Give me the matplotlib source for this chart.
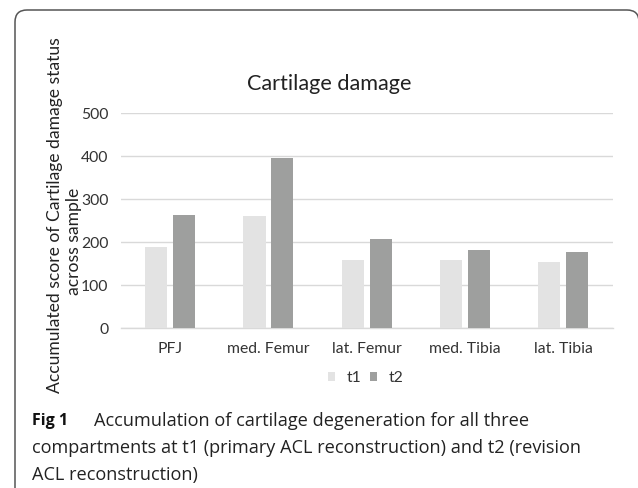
import matplotlib
matplotlib.use("Agg")
import matplotlib.pyplot as plt
import numpy as np
from matplotlib.patches import FancyBboxPatch
from matplotlib.transforms import IdentityTransform

categories = ["PFJ", "med. Femur", "lat. Femur", "med. Tibia", "lat. Tibia"]
t1_values = [190, 262, 160, 158, 155]
t2_values = [263, 396, 208, 181, 178]
series_names = ["t1", "t2"]
y_ticks = [0, 100, 200, 300, 400, 500]
title = "Cartilage damage"
ylabel_line1 = "Accumulated score of Cartilage damage status"
ylabel_line2 = "across sample"
caption_bold = "Fig 1"
caption_lines = [
    "Accumulation of cartilage degeneration for all three",
    "compartments at t1 (primary ACL reconstruction) and t2 (revision",
    "ACL reconstruction)",
]

W, H = 638, 488
fig = plt.figure(figsize=(W / 100, H / 100), dpi=100)
fig.patch.set_facecolor("white")

def fx(x):
    return x / W

def fy(y):
    return 1 - y / H

CHART_FONT = ["Lato", "DejaVu Sans"]
CAP_FONT = ["Open Sans", "DejaVu Sans"]

# plot area in pixels
left, right, top, bottom = 121, 612.5, 113.3, 328.3
ax = fig.add_axes([fx(left), fy(bottom), (right - left) / W, (bottom - top) / H])

x = np.arange(len(categories))
bw = 0.224
off = 0.142
c1, c2 = "#e3e3e3", "#9e9f9e"
ax.bar(x - off, t1_values, bw, color=c1, label=series_names[0], zorder=3)
ax.bar(x + off, t2_values, bw, color=c2, label=series_names[1], zorder=3)

ax.set_xlim(-0.5, len(categories) - 0.5)
ax.set_ylim(0, 500)
ax.set_yticks(y_ticks)
ax.set_yticklabels([str(v) for v in y_ticks], fontfamily=CHART_FONT, fontsize=11.3, color="#333333")
ax.set_xticks(x)
ax.set_xticklabels(categories, fontfamily=CHART_FONT, fontsize=11.3, color="#333333")
ax.tick_params(axis="both", length=0)
ax.tick_params(axis="y", pad=9)
ax.tick_params(axis="x", pad=10)
ax.grid(axis="y", color="#d9d9d9", linewidth=1, zorder=0)
for s in ["top", "right", "left"]:
    ax.spines[s].set_visible(False)
ax.spines["bottom"].set_color("#d9d9d9")
ax.spines["bottom"].set_linewidth(1)

fig.text(fx(329), fy(84), title, ha="center", va="center",
         fontfamily=CHART_FONT, fontsize=15.6, color="#222222")

fig.text(fx(55.5), fy(215), ylabel_line1, rotation=90, ha="center", va="center",
         fontfamily=CHART_FONT, fontsize=12.6, color="#222222")
fig.text(fx(74.5), fy(241), ylabel_line2, rotation=90, ha="center", va="center",
         fontfamily=CHART_FONT, fontsize=12.6, color="#222222")

leg = ax.legend(loc="center", bbox_to_anchor=(fx(365.6), fy(378)), bbox_transform=fig.transFigure,
                ncol=2, frameon=False, handlelength=0.45, handleheight=0.45,
                handletextpad=0.75, columnspacing=0.5,
                prop={"family": CHART_FONT, "size": 11.3})
for t in leg.get_texts():
    t.set_color("#333333")

# caption
fig.text(fx(32), fy(421), caption_bold, ha="left", va="center",
         fontfamily=CAP_FONT, fontsize=11.5, fontweight="bold", color="#111111")
fig.text(fx(94), fy(421), caption_lines[0], ha="left", va="center",
         fontfamily=CAP_FONT, fontsize=13.1, color="#222222")
fig.text(fx(32), fy(448), caption_lines[1], ha="left", va="center",
         fontfamily=CAP_FONT, fontsize=13.1, color="#222222")
fig.text(fx(32), fy(475), caption_lines[2], ha="left", va="center",
         fontfamily=CAP_FONT, fontsize=13.1, color="#222222")

# rounded frame
frame = FancyBboxPatch((15, -30), 639 - 15, (H - 10) + 30,
                       boxstyle="round,pad=0,rounding_size=12",
                       transform=IdentityTransform(), facecolor="none",
                       edgecolor="#555555", linewidth=1.1)
fig.add_artist(frame)

fig.savefig("out.png", dpi=100)
